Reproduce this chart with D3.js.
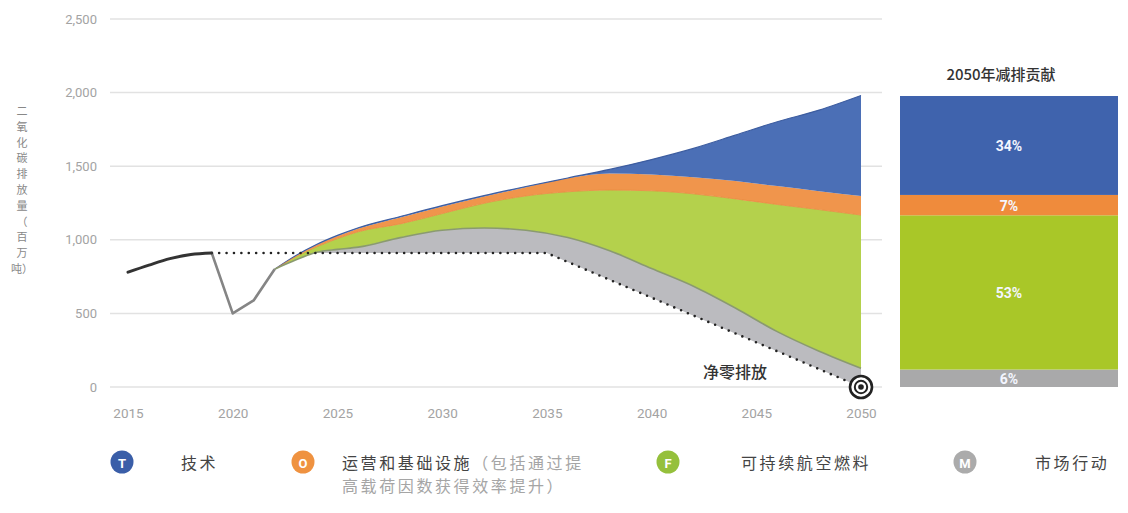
<!DOCTYPE html>
<html><head><meta charset="utf-8">
<script src="https://cdn.jsdelivr.net/npm/d3@7"></script>
<style>
html,body{margin:0;padding:0;background:#fff;}
svg{display:block;}
.cjk{font-family:"Noto Sans CJK SC","Noto Sans",sans-serif;}
.num{font-family:Roboto,"Liberation Sans",sans-serif;}
</style></head>
<body>
<svg id="chart" width="1128" height="513"></svg>
<script>
// ---- data ----
const yTicks = [0, 500, 1000, 1500, 2000, 2500];
const xTicks = [2015, 2020, 2025, 2030, 2035, 2040, 2045, 2050];
const histYears = [2015, 2016, 2017, 2018, 2019];
const histValues = [780, 828, 872, 900, 910];
const covidYears = [2019, 2020, 2021, 2022];
const covidValues = [910, 500, 588, 800];
const capYears = [2019, 2035, 2050];
const capValues = [910, 910, 0];
const years     = [2022,2023,2024,2025,2026,2028,2030,2032,2034,2036,2038,2040,2042,2044,2046,2048,2050];
const gross     = [ 800, 892, 968,1030,1082,1158,1232,1300,1362,1420,1478,1545,1621,1711,1802,1881,1980];
const afterTech = [ 800, 890, 964,1025,1077,1152,1226,1294,1357,1418,1450,1443,1425,1400,1365,1330,1297];
const afterOps  = [ 800, 884, 952,1008,1055,1108,1178,1248,1298,1326,1338,1333,1312,1278,1240,1205,1168];
const afterSAF  = [ 800, 862, 915, 935, 950,1015,1065,1080,1065,1015, 925, 805, 685, 537, 376, 243, 127];
const barLabels = ["市场行动", "可持续航空燃料", "运营和基础设施", "技术"];
const barShares = [6, 53, 7, 34];
const yLabelLines = ["二","氧","化","碳","排","放","量","（","百","万","吨）"];
const legendKeys = ["T", "O", "F", "M"];

const svg = d3.select("#chart");
const x = d3.scaleLinear().domain([2015, 2050]).range([128, 861]);
const y = d3.scaleLinear().domain([0, 2500]).range([387, 19]);

// gridlines
svg.append("g").selectAll("line").data(yTicks).join("line")
  .attr("x1", 110).attr("x2", 882)
  .attr("y1", d => y(d)).attr("y2", d => y(d))
  .attr("stroke", "#e2e2e2").attr("stroke-width", 1.5);

// y tick labels
const yAxis = d3.axisLeft(y).tickValues(yTicks).tickFormat(d3.format(",")).tickSize(0).tickPadding(0);
const gy = svg.append("g").attr("transform", "translate(97,0)").call(yAxis);
gy.select(".domain").remove();
gy.selectAll("text").attr("class", "num").attr("fill", "#a3a3a3").style("font-size", "13px");

// x tick labels
const xAxis = d3.axisBottom(x).tickValues(xTicks).tickFormat(d3.format("d")).tickSize(0).tickPadding(0);
const gx = svg.append("g").attr("transform", "translate(0,408)").call(xAxis);
gx.select(".domain").remove();
gx.selectAll("text").attr("class", "num").attr("fill", "#a3a3a3").style("font-size", "13.5px");

// y label (vertical stacked)
svg.append("g").selectAll("text").data(yLabelLines).join("text")
  .attr("class", "cjk").attr("x", 22).attr("y", (d, i) => 110 + i * 15.8)
  .attr("text-anchor", "middle").attr("dominant-baseline", "central")
  .attr("fill", "#888").style("font-size", "11px").text(d => d);

const pts = years.map((yr, i) => ({yr, g: gross[i], t: afterTech[i], o: afterOps[i], s: afterSAF[i]}));
const curve = d3.curveMonotoneX;
const mkArea = (top, bot) => d3.area().curve(curve).x(d => x(d.yr)).y0(bot).y1(top);

// clip: region above the cap line
const capPts = capYears.map((c, i) => [x(c), y(capValues[i])]);
const clipPoly = [[x(2019), 0], ...capPts, [x(2050) + 20, y(0)], [x(2050) + 20, 0]];
svg.append("clipPath").attr("id", "aboveCap").append("path")
  .attr("d", "M" + clipPoly.map(p => p.join(",")).join("L") + "Z");

// market (grey) area
svg.append("path").datum(pts).attr("clip-path", "url(#aboveCap)")
  .attr("d", mkArea(d => y(d.s), () => y(0))).attr("fill", "#bbbbbf");
// SAF (green)
svg.append("path").datum(pts).attr("d", mkArea(d => y(d.o), d => y(d.s))).attr("fill", "#b4d14c");
// Ops (orange)
svg.append("path").datum(pts).attr("d", mkArea(d => y(d.t), d => y(d.o))).attr("fill", "#f0954c");
// Tech (blue)
svg.append("path").datum(pts).attr("d", mkArea(d => y(d.g), d => y(d.t))).attr("fill", "#4b6fb6");

// edges
const mkLine = acc => d3.line().curve(curve).x(d => x(d.yr)).y(acc);
svg.append("path").datum(pts).attr("d", mkLine(d => y(d.g))).attr("fill", "none").attr("stroke", "#3d5da0").attr("stroke-width", 1.2);
svg.append("path").datum(pts).attr("d", mkLine(d => y(d.o))).attr("fill", "none").attr("stroke", "#e98a3f").attr("stroke-width", 0.8);
svg.append("path").datum(pts).attr("d", mkLine(d => y(d.s))).attr("fill", "none").attr("stroke", "#8a9a70").attr("stroke-width", 1.6);

// cap dotted line
svg.append("path").datum(capYears.map((c, i) => [c, capValues[i]]))
  .attr("d", d3.line().x(d => x(d[0])).y(d => y(d[1])))
  .attr("fill", "none").attr("stroke", "#222").attr("stroke-width", 2.6)
  .attr("stroke-linecap", "round").attr("stroke-dasharray", "0,7.4");

// covid grey line
svg.append("path").datum(covidYears.map((c, i) => [c, covidValues[i]]))
  .attr("d", d3.line().x(d => x(d[0])).y(d => y(d[1])))
  .attr("fill", "none").attr("stroke", "#858585").attr("stroke-width", 2.6).attr("stroke-linejoin", "round");
// historical black line
svg.append("path").datum(histYears.map((c, i) => [c, histValues[i]]))
  .attr("d", d3.line().curve(d3.curveMonotoneX).x(d => x(d[0])).y(d => y(d[1])))
  .attr("fill", "none").attr("stroke", "#333").attr("stroke-width", 3).attr("stroke-linecap", "round");

// net zero label and target icon
svg.append("text").attr("class", "cjk").attr("x", 703).attr("y", 371)
  .attr("dominant-baseline", "central").attr("fill", "#333").style("font-size", "16px").style("font-weight", 500)
  .text("净零排放");
const tgt = svg.append("g").attr("transform", `translate(${x(2050)},${y(0)})`);
tgt.append("circle").attr("r", 11).attr("fill", "#fff").attr("stroke", "#222").attr("stroke-width", 2.6);
tgt.append("circle").attr("r", 6.2).attr("fill", "#fff").attr("stroke", "#222").attr("stroke-width", 2);
tgt.append("circle").attr("r", 2.8).attr("fill", "#222");

// right stacked bar
const barColors = ["#a9a9aa", "#a9c728", "#ef8b3c", "#3f63ad"];
const barScale = d3.scaleLinear().domain([0, d3.sum(barShares)]).range([387, 96]);
let acc = 0;
const barData = barShares.map((v, i) => { const d = {v, i, lo: acc, hi: acc + v}; acc += v; return d; });
const bar = svg.append("g");
bar.selectAll("rect").data(barData).join("rect")
  .attr("x", 900).attr("width", 218)
  .attr("y", d => barScale(d.hi)).attr("height", d => barScale(d.lo) - barScale(d.hi))
  .attr("fill", d => barColors[d.i]);
bar.selectAll("text").data(barData).join("text")
  .attr("class", "num").attr("x", 1009).attr("y", d => (barScale(d.lo) + barScale(d.hi)) / 2 + 1)
  .attr("text-anchor", "middle").attr("dominant-baseline", "central")
  .attr("fill", "#f4f6ff").style("font-size", "14px").style("font-weight", 700)
  .text(d => d.v + "%");
svg.append("text").attr("class", "cjk").attr("x", 1001).attr("y", 73)
  .attr("text-anchor", "middle").attr("dominant-baseline", "central")
  .attr("fill", "#333").style("font-size", "15px").style("font-weight", 500).text("2050年减排贡献");

// legend
const legendX = [122, 303, 668, 965];
const legendTextX = [181, 342, 741, 1035];
const legendColors = ["#3a5ea8", "#ef9240", "#95c03c", "#ababab"];
const leg = svg.append("g");
legendKeys.forEach((k, i) => {
  leg.append("circle").attr("cx", legendX[i]).attr("cy", 462).attr("r", 11.5).attr("fill", legendColors[i]);
  leg.append("text").attr("class", "num").attr("x", legendX[i]).attr("y", 463)
    .attr("text-anchor", "middle").attr("dominant-baseline", "central")
    .attr("fill", "#fff").style("font-size", "13px").style("font-weight", 700).text(k);
});
const legText = (xx, yy, parts) => {
  const t = leg.append("text").attr("class", "cjk").attr("x", xx).attr("y", yy)
    .attr("dominant-baseline", "central").style("font-size", "16px").style("letter-spacing", "2.6px");
  parts.forEach(p => t.append("tspan").attr("fill", p[1]).text(p[0]));
};
legText(legendTextX[0], 462, [[barLabels[3], "#444"]]);
legText(legendTextX[1], 462, [[barLabels[2], "#444"], ["（包括通过提", "#a5a5a5"]]);
legText(legendTextX[1], 485, [["高载荷因数获得效率提升）", "#a5a5a5"]]);
legText(legendTextX[2], 462, [[barLabels[1], "#444"]]);
legText(legendTextX[3], 462, [[barLabels[0], "#444"]]);
</script>
</body></html>
